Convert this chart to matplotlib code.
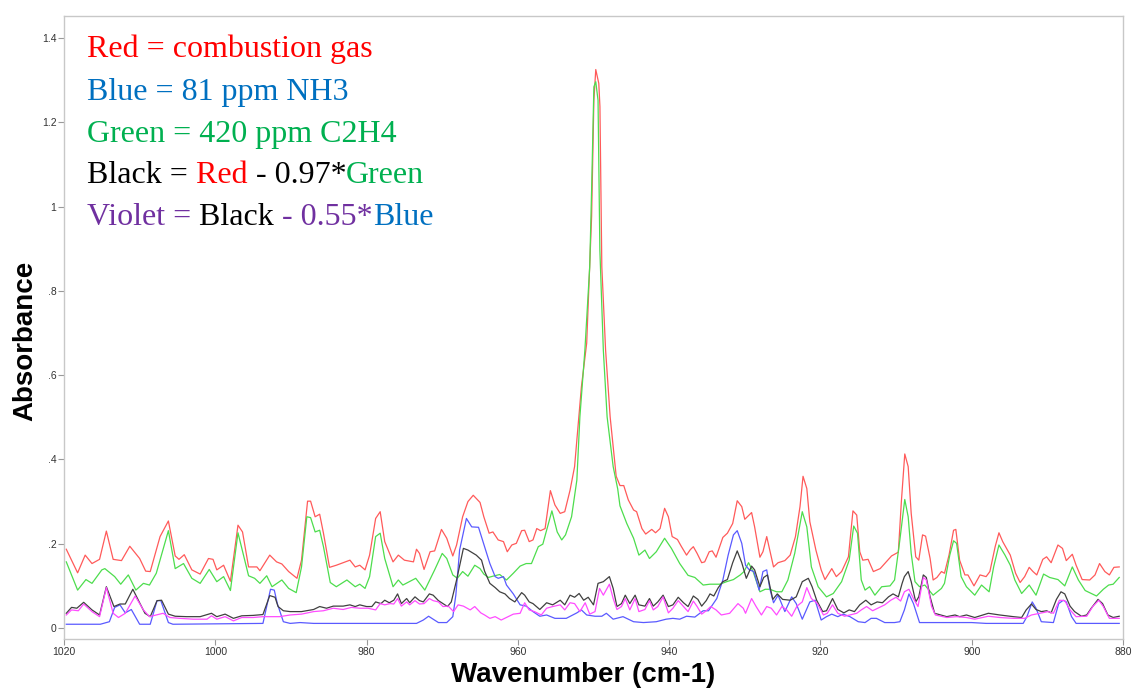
import matplotlib
matplotlib.use('Agg')
import matplotlib.pyplot as plt
from matplotlib import transforms

# ---- spectra (wavenumber cm-1, absorbance) ----
red_wn = [1019.7, 1018.2, 1017.2, 1016.3, 1015.3, 1014.4, 1013.5, 1012.4, 1011.3, 1010.0,
          1009.2, 1008.6, 1007.3, 1006.2, 1005.3, 1004.8, 1004.1, 1003.1, 1002.0, 1000.9,
          1000.3, 999.8, 998.9, 998.0, 997.0, 996.4, 995.6, 994.5, 994.1, 992.8,
          991.9, 991.2, 990.3, 989.2, 988.6, 987.8, 987.4, 986.8, 986.2, 985.7,
          984.9, 984.0, 982.2, 981.5, 980.9, 980.2, 979.6, 978.8, 978.2, 977.6,
          976.5, 975.8, 975.0, 973.8, 973.4, 973.0, 972.4, 971.6, 971.0, 970.1,
          969.4, 968.6, 968.1, 967.3, 966.6, 965.9, 965.0, 964.5, 963.8, 963.3,
          962.6, 961.9, 961.4, 960.8, 960.2, 959.5, 959.1, 958.5, 958.0, 957.5,
          957.0, 956.4, 955.7, 955.1, 954.4, 953.8, 953.1, 952.5, 951.6, 950.9,
          950.5, 950.25, 949.95, 949.7, 949.3, 949.15, 948.9, 948.4, 947.8, 947.0,
          946.5, 946.0, 945.4, 944.7, 944.3, 943.6, 943.1, 942.3, 941.8, 941.2,
          940.6, 940.1, 939.6, 938.9, 938.4, 937.7, 937.2, 936.8, 936.3, 935.7,
          935.3, 934.7, 934.3, 933.8, 932.9, 932.3, 931.6, 931.0, 930.4, 930.0,
          929.1, 928.7, 928.0, 927.6, 927.1, 926.7, 926.2, 925.6, 924.7, 924.0,
          923.3, 922.7, 922.3, 921.8, 921.4, 920.6, 919.9, 919.4, 918.5, 917.9,
          917.2, 916.3, 915.7, 915.2, 914.8, 914.4, 913.7, 913.0, 912.1, 911.3,
          910.6, 909.7, 909.3, 908.85, 908.4, 908.0, 907.4, 907.0, 906.5, 906.1,
          905.5, 905.1, 904.6, 904.0, 903.6, 903.0, 902.4, 902.1, 901.6, 900.9,
          900.5, 899.7, 898.9, 898.1, 897.6, 896.9, 896.4, 895.9, 895.4, 894.9,
          894.2, 893.6, 893.0, 892.4, 891.9, 891.4, 890.6, 890.1, 889.5, 888.6,
          888.0, 887.5, 886.7, 886.2, 885.4, 884.4, 883.7, 883.1, 882.4, 881.8,
          881.2, 880.5]
red_abs = [.187, .131, .173, .153, .163, .230, .163, .160, .194, .165,
           .135, .134, .217, .254, .171, .163, .174, .138, .128, .165,
           .163, .138, .149, .111, .244, .228, .145, .145, .136, .173,
           .157, .152, .134, .118, .161, .301, .301, .264, .270, .225,
           .144, .149, .161, .145, .149, .138, .173, .260, .276, .205,
           .157, .173, .161, .157, .187, .177, .139, .181, .183, .234,
           .213, .171, .197, .264, .300, .315, .298, .264, .225, .228,
           .209, .205, .181, .197, .201, .231, .232, .205, .209, .236,
           .231, .236, .326, .292, .272, .276, .327, .383, .572, .676,
           .857, .976, 1.252, 1.325, 1.292, 1.237, .857, .659, .501, .360,
           .338, .338, .304, .280, .276, .236, .223, .234, .226, .236,
           .284, .264, .217, .210, .194, .173, .186, .193, .177, .155,
           .157, .181, .183, .168, .215, .225, .248, .302, .288, .258,
           .274, .240, .168, .181, .217, .185, .145, .155, .160, .173,
           .217, .288, .360, .331, .252, .185, .138, .115, .141, .122,
           .134, .169, .278, .268, .181, .161, .163, .134, .141, .157,
           .171, .180, .300, .413, .383, .272, .169, .161, .221, .218,
           .165, .114, .120, .134, .130, .173, .232, .234, .161, .126,
           .126, .100, .126, .122, .134, .193, .226, .205, .189, .173,
           .130, .108, .122, .144, .134, .126, .163, .169, .155, .197,
           .189, .160, .175, .149, .115, .114, .126, .153, .134, .126,
           .144, .145]

green_wn = [1019.7, 1018.2, 1017.1, 1016.3, 1015.0, 1014.6, 1013.3, 1012.5, 1011.5, 1010.5,
            1009.5, 1008.7, 1007.8, 1006.2, 1005.3, 1004.2, 1003.1, 1002.0, 1000.8, 999.8,
            998.9, 998.0, 997.0, 995.6, 994.8, 994.1, 993.2, 992.5, 991.2, 990.3,
            989.3, 988.6, 987.9, 987.4, 986.8, 986.2, 985.7, 984.8, 984.0, 982.6,
            981.5, 980.9, 980.2, 979.6, 978.8, 978.2, 977.6, 976.5, 975.8, 975.2,
            973.5, 972.3, 971.0, 970.0, 969.4, 968.6, 968.0, 967.3, 966.6, 965.7,
            965.0, 964.5, 963.9, 963.3, 962.4, 961.5, 960.6, 959.7, 958.9, 958.2,
            957.3, 956.7, 955.5, 954.8, 954.2, 953.7, 952.9, 952.2, 951.8, 951.14,
            950.5, 950.25, 949.95, 949.7, 949.4, 949.16, 948.7, 948.2, 947.4, 946.8,
            946.5, 945.6, 944.7, 944.0, 943.2, 942.6, 941.7, 940.6, 939.7, 938.6,
            937.5, 936.6, 935.5, 934.6, 933.3, 932.4, 931.5, 930.6, 930.1, 929.5,
            928.9, 928.0, 927.3, 926.7, 925.8, 925.1, 924.3, 923.4, 922.4, 921.8,
            921.2, 920.3, 919.2, 918.3, 917.2, 916.2, 915.6, 915.1, 914.6, 914.1,
            913.5, 912.8, 911.9, 910.8, 910.2, 909.5, 908.85, 908.4, 908.0, 907.5,
            906.9, 906.2, 905.1, 904.0, 903.6, 902.9, 902.4, 902.0, 901.4, 900.7,
            899.6, 898.7, 897.7, 897.1, 896.4, 895.6, 894.9, 894.3, 893.4, 892.4,
            891.5, 890.5, 889.7, 888.6, 887.7, 886.7, 885.9, 885.0, 883.5, 882.6,
            881.9, 881.3, 880.5]
green_abs = [.157, .090, .115, .106, .138, .141, .122, .104, .126, .090,
             .106, .102, .130, .231, .141, .153, .118, .106, .139, .110,
             .122, .089, .226, .124, .118, .106, .124, .098, .114, .094,
             .084, .145, .264, .262, .228, .232, .193, .108, .098, .114,
             .098, .104, .094, .122, .217, .225, .165, .098, .114, .102,
             .118, .090, .138, .177, .165, .126, .118, .134, .123, .149,
             .141, .128, .120, .123, .127, .114, .130, .147, .153, .153,
             .193, .199, .278, .228, .209, .221, .264, .351, .501, .659,
             .857, 1.039, 1.284, 1.296, 1.252, .897, .659, .501, .383, .330,
             .290, .248, .213, .173, .185, .165, .181, .213, .189, .153,
             .125, .120, .102, .104, .104, .110, .115, .126, .134, .155,
             .134, .086, .092, .092, .086, .086, .114, .177, .276, .240,
             .145, .098, .074, .082, .110, .161, .242, .225, .114, .090,
             .098, .078, .098, .100, .114, .209, .305, .264, .177, .110,
             .098, .102, .078, .094, .106, .173, .207, .201, .122, .098,
             .078, .102, .086, .145, .197, .173, .149, .114, .082, .102,
             .078, .128, .120, .115, .100, .145, .114, .089, .076, .092,
             .102, .104, .120]

blue_wn = [1019.7, 1015.2, 1014.0, 1013.3, 1012.6, 1011.9, 1011.1, 1010.0, 1008.6, 1007.7,
           1007.2, 1006.2, 1005.6, 993.7, 992.7, 992.2, 991.8, 991.0, 990.1, 988.8,
           987.0, 973.4, 972.5, 971.8, 971.2, 970.5, 969.4, 968.6, 968.2, 967.7,
           966.8, 966.1, 965.2, 964.4, 963.7, 963.0, 962.6, 961.9, 961.5, 960.6,
           959.7, 958.9, 958.0, 957.1, 956.2, 955.1, 953.6, 952.2, 951.6, 950.9,
           949.8, 948.9, 948.3, 947.4, 946.1, 944.7, 943.4, 941.7, 940.4, 939.5,
           938.6, 937.7, 936.6, 935.5, 934.8, 933.7, 932.9, 932.2, 931.5, 931.0,
           930.4, 929.9, 929.4, 928.8, 928.1, 927.6, 927.1, 926.7, 926.2, 925.6,
           924.7, 923.8, 923.2, 922.4, 921.4, 920.7, 919.9, 919.2, 918.5, 917.7,
           917.0, 916.1, 915.0, 914.1, 913.3, 912.6, 911.5, 910.2, 909.5, 908.9,
           908.3, 907.7, 906.9, 900.0, 898.1, 893.2, 892.7, 892.0, 891.5, 890.8,
           889.2, 888.5, 887.9, 887.5, 886.8, 886.2, 880.5]
blue_abs = [.009, .009, .015, .049, .055, .036, .044, .009, .009, .065,
            .065, .013, .009, .011, .092, .090, .058, .015, .011, .013,
            .011, .011, .019, .028, .021, .013, .013, .027, .078, .185,
            .260, .240, .239, .193, .153, .122, .118, .122, .102, .081,
            .055, .052, .039, .028, .031, .023, .023, .036, .043, .031,
            .028, .028, .035, .021, .027, .015, .013, .015, .021, .023,
            .021, .028, .026, .041, .041, .070, .114, .173, .221, .231,
            .201, .149, .138, .134, .090, .134, .138, .094, .060, .078,
            .039, .074, .058, .021, .062, .066, .019, .027, .033, .027,
            .033, .027, .015, .013, .023, .023, .013, .013, .015, .043,
            .081, .058, .013, .013, .011, .011, .027, .062, .047, .015,
            .013, .058, .066, .062, .027, .011, .011]

black_wn = [1019.7, 1019.0, 1018.3, 1017.4, 1016.3, 1015.3, 1014.4, 1013.4, 1012.6, 1011.9,
            1010.9, 1009.3, 1008.6, 1007.7, 1007.1, 1006.2, 1005.3, 1003.8, 1002.0, 1000.5,
            999.8, 998.7, 997.6, 996.5, 995.0, 993.7, 992.8, 992.1, 991.7, 991.0,
            990.1, 988.6, 987.0, 986.2, 985.3, 984.4, 983.1, 982.2, 981.5, 980.9,
            980.0, 979.3, 978.8, 978.1, 977.6, 977.0, 976.4, 975.9, 975.4, 974.7,
            974.3, 973.6, 973.0, 972.5, 971.7, 971.2, 970.5, 969.9, 969.3, 968.8,
            968.1, 967.2, 966.6, 965.5, 964.8, 964.4, 963.7, 963.0, 962.4, 961.7,
            961.1, 960.4, 959.5, 959.1, 958.5, 958.0, 957.1, 956.2, 955.4, 954.4,
            953.8, 953.1, 952.5, 951.9, 951.3, 950.7, 950.0, 949.4, 948.7, 947.9,
            947.4, 946.9, 946.3, 945.8, 945.2, 944.5, 944.0, 943.2, 942.6, 942.1,
            941.5, 940.8, 940.1, 939.5, 938.8, 938.1, 937.5, 936.8, 936.2, 935.7,
            935.1, 934.6, 934.1, 933.5, 932.9, 932.3, 931.6, 931.0, 930.4, 929.8,
            929.1, 928.7, 928.0, 927.5, 927.0, 926.3, 925.7, 925.0, 924.0, 923.2,
            922.4, 921.6, 921.1, 920.5, 919.7, 919.2, 918.4, 917.7, 916.9, 916.2,
            915.5, 914.8, 914.0, 913.3, 912.5, 911.8, 911.0, 910.4, 909.7, 909.2,
            908.9, 908.4, 908.0, 907.4, 907.0, 906.4, 906.0, 905.5, 904.9, 903.3,
            902.2, 901.6, 900.7, 899.6, 897.8, 896.3, 894.5, 893.4, 892.8, 892.1,
            891.5, 890.8, 890.1, 889.5, 888.8, 888.2, 887.7, 887.0, 886.4, 885.5,
            884.8, 884.2, 883.3, 882.7, 882.0, 881.3, 880.5]
black_abs = [.035, .049, .047, .061, .043, .031, .098, .051, .057, .057,
             .092, .035, .027, .065, .066, .033, .028, .027, .027, .035,
             .027, .033, .023, .029, .030, .032, .077, .073, .051, .041,
             .039, .039, .044, .051, .047, .052, .052, .055, .051, .055,
             .051, .051, .062, .058, .066, .060, .066, .081, .058, .070,
             .060, .074, .065, .062, .081, .078, .065, .058, .051, .062,
             .114, .189, .185, .173, .161, .135, .106, .096, .086, .081,
             .070, .062, .084, .078, .062, .058, .044, .060, .055, .066,
             .055, .078, .073, .082, .066, .073, .055, .106, .110, .122,
             .094, .051, .058, .078, .058, .078, .055, .052, .070, .052,
             .062, .078, .051, .055, .073, .060, .051, .076, .068, .052,
             .065, .081, .076, .096, .110, .115, .155, .183, .155, .118,
             .147, .138, .098, .120, .126, .068, .081, .068, .066, .074,
             .110, .118, .098, .066, .039, .041, .070, .044, .036, .043,
             .039, .055, .066, .055, .062, .060, .074, .081, .074, .106,
             .122, .134, .110, .062, .074, .126, .120, .074, .035, .027,
             .031, .027, .031, .025, .035, .031, .027, .025, .043, .057,
             .044, .039, .041, .036, .068, .086, .081, .052, .039, .028,
             .031, .047, .068, .058, .031, .025, .028]

violet_wn = [1019.7, 1019.0, 1018.1, 1017.4, 1016.3, 1015.3, 1014.4, 1013.5, 1012.8, 1011.9,
             1010.6, 1009.5, 1008.7, 1007.8, 1006.9, 1006.0, 1004.7, 1002.9, 1001.1, 1000.5,
             999.8, 998.7, 997.6, 996.5, 995.0, 993.7, 992.1, 991.5, 990.1, 988.6,
             987.0, 985.7, 984.4, 983.1, 982.0, 980.9, 979.8, 978.8, 978.2, 977.6,
             976.9, 976.4, 975.9, 975.4, 974.7, 974.3, 973.6, 973.0, 972.4, 971.7,
             971.2, 970.5, 969.9, 969.2, 968.5, 967.9, 967.2, 966.3, 965.7, 964.9,
             964.4, 963.7, 963.0, 962.2, 961.3, 960.6, 959.7, 959.1, 958.5, 957.8,
             956.9, 956.2, 955.4, 954.4, 953.8, 953.1, 952.5, 951.8, 951.1, 950.5,
             949.8, 949.2, 948.7, 947.9, 947.4, 946.9, 946.3, 945.8, 945.2, 944.5,
             944.0, 943.2, 942.6, 942.1, 941.5, 940.8, 940.1, 939.5, 938.8, 938.1,
             937.5, 936.8, 936.3, 935.7, 935.1, 934.5, 933.8, 933.1, 932.0, 930.9,
             930.2, 929.9, 929.1, 928.5, 927.8, 927.1, 926.5, 925.8, 925.1, 924.5,
             923.8, 923.1, 922.4, 921.8, 921.2, 920.4, 919.6, 919.1, 918.4, 917.7,
             916.8, 916.1, 915.2, 914.6, 913.9, 913.1, 912.4, 911.5, 910.7, 910.0,
             909.4, 908.9, 908.3, 907.7, 907.1, 906.4, 906.0, 905.3, 904.8, 903.3,
             902.0, 900.7, 899.6, 897.8, 896.3, 894.5, 893.0, 892.1, 891.0, 889.9,
             889.2, 888.4, 887.7, 887.0, 886.2, 884.8, 884.0, 883.2, 882.6, 881.8,
             880.5]
violet_abs = [.031, .043, .041, .057, .039, .027, .096, .035, .025, .035,
              .076, .043, .027, .031, .035, .025, .023, .021, .021, .029,
              .021, .027, .017, .025, .025, .027, .027, .027, .031, .033,
              .039, .041, .047, .044, .049, .047, .047, .043, .058, .055,
              .058, .057, .070, .052, .062, .055, .065, .057, .058, .070,
              .065, .062, .051, .052, .039, .055, .052, .043, .051, .036,
              .031, .023, .027, .019, .027, .033, .035, .060, .043, .039,
              .031, .047, .051, .055, .043, .060, .058, .039, .060, .033,
              .039, .094, .078, .104, .070, .044, .051, .070, .043, .070,
              .039, .044, .065, .043, .051, .074, .036, .047, .065, .051,
              .039, .064, .051, .033, .041, .051, .043, .031, .035, .058,
              .047, .035, .070, .051, .031, .051, .047, .031, .051, .044,
              .028, .052, .062, .096, .070, .058, .031, .035, .055, .035,
              .028, .031, .035, .043, .051, .041, .047, .055, .066, .073,
              .064, .086, .092, .070, .051, .120, .114, .051, .031, .025,
              .027, .025, .021, .028, .025, .023, .023, .031, .035, .039,
              .035, .066, .065, .043, .027, .028, .051, .066, .051, .023,
              .023]

xticks = [1020, 1000, 980, 960, 940, 920, 900, 880]
yticks = [0, 0.2, 0.4, 0.6, 0.8, 1.0, 1.2, 1.4]
ytick_labels = ['0', '.2', '.4', '.6', '.8', '1', '1.2', '1.4']

W, H = 1133, 691
fig = plt.figure(figsize=(W / 100, H / 100), dpi=100)
ax = fig.add_axes([64 / W, (H - 639) / H, (1123 - 64) / W, (639 - 16) / H])

ax.plot(red_wn, red_abs, color='#ff5a5a', lw=0.9)
ax.plot(green_wn, green_abs, color='#4ddd4d', lw=0.9)
ax.plot(blue_wn, blue_abs, color='#5a5aff', lw=0.9)
ax.plot(black_wn, black_abs, color='#404040', lw=0.9)
ax.plot(violet_wn, violet_abs, color='#ff4cff', lw=0.9)

ax.set_xlim(1020, 880)
ax.set_ylim(-0.026, 1.452)
ax.set_xticks(xticks)
ax.set_xticklabels([str(t) for t in xticks])
ax.set_yticks(yticks)
ax.set_yticklabels(ytick_labels)
ax.tick_params(direction='out', length=4.5, width=0.8, color='#999999', pad=1,
               labelsize=7.5, labelcolor='#333333')
for lab in ax.get_xticklabels() + ax.get_yticklabels():
    lab.set_family('Liberation Sans')
for sp in ax.spines.values():
    sp.set_color('#c8c8c8')
    sp.set_linewidth(1.0)

fig.text(25 / W, 1 - 341 / H, 'Absorbance', rotation=90, ha='center', va='center',
         fontsize=20, fontweight='bold', family='Liberation Sans')
fig.text(583 / W, 1 - 675 / H, 'Wavenumber (cm-1)', ha='center', va='center',
         fontsize=20, fontweight='bold', family='Liberation Sans')

# legend written as coloured text pieces
RED, BLUE, GREEN, VIOLET = '#ff0000', '#0070c0', '#00b050', '#7030a0'
legend_lines = [
    [('Red = combustion gas', RED)],
    [('Blue = 81 ppm NH3', BLUE)],
    [('Green = 420 ppm C2H4', GREEN)],
    [('Black =', 'black'), (' Red', RED), (' - 0.97*', 'black'), ('Green', GREEN)],
    [('Violet =', VIOLET), (' Black', 'black'), (' - 0.55*', VIOLET), ('Blue', BLUE)],
]
baselines = [57, 100, 142, 183, 225]

renderer = fig.canvas.get_renderer()
for parts, base in zip(legend_lines, baselines):
    trans = fig.transFigure
    for s, c in parts:
        t = fig.text(87 / W, 1 - base / H, s, color=c, transform=trans, fontsize=23,
                     family='Liberation Serif', va='baseline')
        t.draw(renderer)
        ex = t.get_window_extent(renderer)
        trans = transforms.offset_copy(t.get_transform(), x=ex.width, units='dots')

fig.savefig('out.png', dpi=100)
